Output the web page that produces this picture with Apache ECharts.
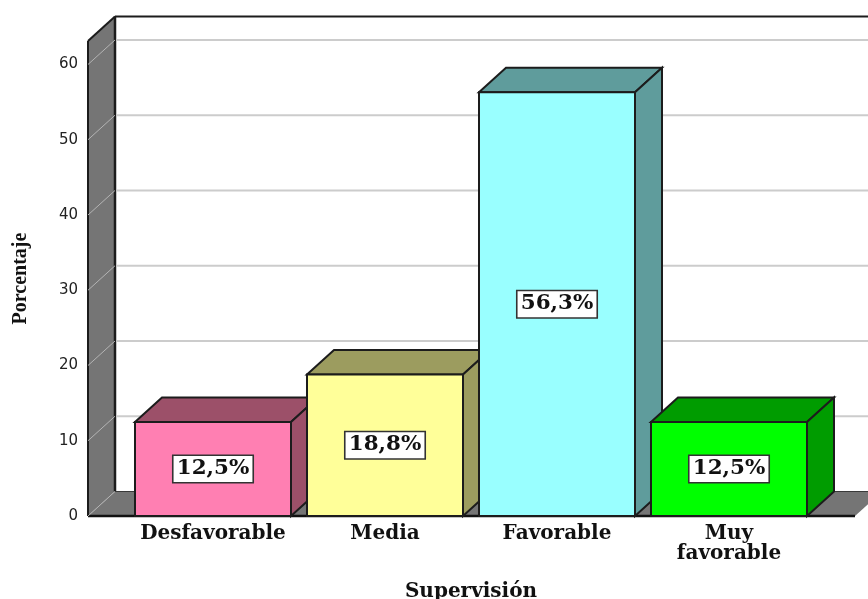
<!DOCTYPE html>
<html>
<head>
<meta charset="utf-8">
<style>html,body{margin:0;padding:0;background:#fff}#chart{width:868px;height:599px}</style>
<script src="https://cdn.jsdelivr.net/npm/echarts@6/dist/echarts.min.js"></script>
</head>
<body>
<div id="chart"></div>
<script>
// Supervisión: percentage of responses per rating
const categories = ['Desfavorable', 'Media', 'Favorable', 'Muy\nfavorable'];
const percentages = [12.5, 18.8, 56.3, 12.5];
const gridTicks = [0, 10, 20, 30, 40, 50, 60];
const frontColors = ['#ff7fb2', '#ffff99', '#99ffff', '#00ff00'];
const shadeColors = ['#9c5069', '#9c9c5f', '#5f9c9c', '#009c00'];

// Perspective offset of the back plane and the wall overhang past the category bands
const DEPTH_X = 27, DEPTH_Y = -24.5, WALL_PAD = 39, EDGE = '#1c1c1c';

const poly = (points, fill, z2, lineWidth) => ({
  type: 'polygon', z2,
  shape: { points },
  style: { fill, stroke: lineWidth ? EDGE : null, lineWidth: lineWidth || 0 }
});
const seg = (x1, y1, x2, y2, stroke, lineWidth) => ({
  type: 'line',
  shape: { x1, y1, x2, y2 },
  style: { stroke, lineWidth }
});

// Left wall and floor, behind everything else
function renderWalls(params, api) {
  const c = params.coordSys;
  const y0 = api.coord([0, 0])[1];
  const yTop = c.y;
  const xl = c.x - WALL_PAD;
  const xb = xl + DEPTH_X;
  const xr = c.x + c.width + WALL_PAD + 1;
  return {
    type: 'group',
    children: [
      poly([[xl, yTop], [xb, yTop + DEPTH_Y], [xb, y0 + DEPTH_Y], [xl, y0]], '#757575'),
      poly([[xl, y0], [xb, y0 + DEPTH_Y], [xr + DEPTH_X, y0 + DEPTH_Y], [xr, y0]], '#757575'),
      seg(xl, yTop, xl, y0, EDGE, 2),
      seg(xb, yTop + DEPTH_Y, xb, y0 + DEPTH_Y, EDGE, 2.5),
      seg(xl, yTop, xb, yTop + DEPTH_Y, EDGE, 2),
      seg(xb, yTop + DEPTH_Y, 868, yTop + DEPTH_Y, EDGE, 2),
      seg(xb, y0 + DEPTH_Y, xr + DEPTH_X, y0 + DEPTH_Y, '#3a3a3a', 1),
      seg(xl, y0, xr, y0, '#111', 2.5)
    ]
  };
}

// Gridline running along the back wall and slanting down the left wall
function renderGridline(params, api) {
  const c = params.coordSys;
  const y = api.coord([0, api.value(0)])[1];
  const xl = c.x - WALL_PAD;
  const xb = xl + DEPTH_X;
  const children = [seg(xl, y, xb, y + DEPTH_Y, '#b4b4b4', 1)];
  if (api.value(0) > 0) children.push(seg(xb + 1.5, y + DEPTH_Y, 868, y + DEPTH_Y, '#cccccc', 2));
  return { type: 'group', children };
}

// One box: front face, top and side faces, and the value tag on the front
function renderBar(params, api) {
  const i = api.value(0);
  const v = api.value(1);
  const [cx, yTop] = api.coord([i, v]);
  const y0 = api.coord([i, 0])[1];
  const w = api.size([1, 0])[0] * 0.907;
  const l = cx - w / 2, r = cx + w / 2;
  return {
    type: 'group',
    children: [
      poly([[l, yTop], [l + DEPTH_X, yTop + DEPTH_Y], [r + DEPTH_X, yTop + DEPTH_Y], [r, yTop]], shadeColors[i], 1, 2),
      poly([[r, yTop], [r + DEPTH_X, yTop + DEPTH_Y], [r + DEPTH_X, y0 + DEPTH_Y], [r, y0]], shadeColors[i], 1, 2),
      poly([[l, yTop], [r, yTop], [r, y0], [l, y0]], frontColors[i], 2, 2),
      {
        type: 'text',
        z2: 3,
        x: cx, y: (yTop + y0) / 2,
        scaleX: 1.07,
        style: {
          text: v.toFixed(1).replace('.', ',') + '%',
          font: "bold 20px 'DejaVu Serif'",
          fill: '#111',
          align: 'center',
          verticalAlign: 'middle',
          backgroundColor: '#fff',
          borderColor: '#333',
          borderWidth: 1.5,
          padding: [3, 3, 3, 3]
        }
      }
    ]
  };
}

const chart = echarts.init(document.getElementById('chart'), null, { renderer: 'canvas' });
chart.setOption({
  animation: false,
  backgroundColor: '#fff',
  grid: { left: 127, right: 53, top: 41, bottom: 83, outerBoundsMode: 'none' },
  xAxis: {
    type: 'category',
    data: categories,
    name: 'Supervisión',
    nameLocation: 'middle',
    nameGap: 66,
    nameTextStyle: { fontFamily: 'DejaVu Serif', fontWeight: 'bold', fontSize: 20, color: '#111' },
    axisLine: { show: false },
    axisTick: { show: false },
    axisLabel: {
      margin: 8, interval: 0,
      fontFamily: 'DejaVu Serif', fontWeight: 'bold', fontSize: 20, lineHeight: 20, color: '#111'
    }
  },
  yAxis: {
    type: 'value',
    min: 0, max: 63.12, interval: 10,
    name: 'Porcentaje',
    nameLocation: 'middle',
    nameGap: 96,
    nameRotate: 90,
    nameTextStyle: { fontFamily: 'Liberation Serif', fontWeight: 'bold', fontSize: 20, color: '#111' },
    axisLine: { show: false },
    axisTick: { show: false },
    splitLine: { show: false },
    axisLabel: {
      margin: 49, showMaxLabel: false,
      fontFamily: 'DejaVu Sans', fontSize: 15, color: '#222'
    }
  },
  series: [
    { type: 'custom', name: 'walls', z: 1, silent: true, clip: false, renderItem: renderWalls, data: [[0, 0]], encode: { x: 0, y: 1 } },
    { type: 'custom', name: 'gridlines', z: 2, silent: true, clip: false, renderItem: renderGridline, data: gridTicks.map(t => [t]), encode: { y: 0 } },
    { type: 'custom', name: 'Porcentaje', z: 3, clip: false, renderItem: renderBar, data: percentages.map((v, i) => [i, v]), encode: { x: 0, y: 1 } }
  ]
});
</script>
</body>
</html>
